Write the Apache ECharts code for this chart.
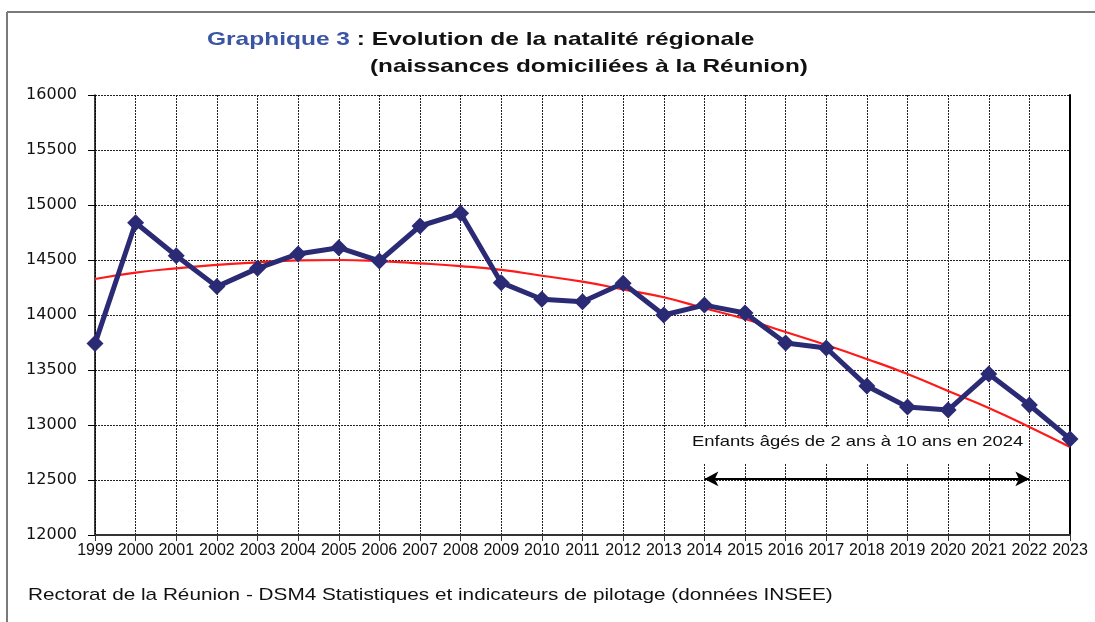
<!DOCTYPE html>
<html>
<head>
<meta charset="utf-8">
<script src="https://cdn.jsdelivr.net/npm/echarts@6/dist/echarts.min.js"></script>
<style>html,body{margin:0;padding:0;background:#fff}#c{width:1095px;height:622px}</style>
</head>
<body>
<div id="c"></div>
<script>
var years = ['1999','2000','2001','2002','2003','2004','2005','2006','2007','2008','2009','2010','2011','2012','2013','2014','2015','2016','2017','2018','2019','2020','2021','2022','2023'];
var births = [13740,14839,14539,14258,14424,14555,14612,14491,14809,14924,14294,14143,14121,14288,14000,14090,14018,13745,13700,13355,13164,13136,13464,13182,12873];
var trend = [14327,14385,14424,14455,14479,14497,14500,14490,14470,14445,14410,14357,14303,14233,14161,14061,13964,13845,13727,13600,13464,13309,13155,12982,12800];
var arrowSpan = {from:'2014', to:'2022', value:12510};
var annotation = 'Enfants âgés de 2 ans à 10 ans en 2024';
var titleLine1 = 'Graphique 3';
var titleLine1b = ' : Evolution de la natalité régionale';
var titleLine2 = '(naissances domiciliées à la Réunion)';
var sourceText = 'Rectorat de la Réunion - DSM4 Statistiques et indicateurs de pilotage (données INSEE)';

var FONT = '"Liberation Sans", Arial, Helvetica, sans-serif';
var chart = echarts.init(document.getElementById('c'), null, {renderer:'canvas'});
var dotted = {color:'#222', width:1, type:[2,1]};
chart.setOption({
  animation:false,
  backgroundColor:'#fff',
  grid:{left:95, right:25, top:95, bottom:87, containLabel:false},
  xAxis:{
    type:'category', data:years, boundaryGap:false,
    axisLine:{lineStyle:{color:'#333', width:2}},
    axisTick:{show:true, length:6, lineStyle:{color:'#333'}},
    axisLabel:{color:'#111', fontFamily:FONT, fontSize:16, margin:8, interval:0},
    splitLine:{show:true, lineStyle:dotted}
  },
  yAxis:[{
    type:'value', min:12000, max:16000, interval:500,
    axisLine:{show:true, lineStyle:{color:'#000', width:1.5}},
    axisTick:{show:true, length:7, lineStyle:{color:'#000'}},
    axisLabel:{color:'#111', fontFamily:'"DejaVu Sans", sans-serif', fontSize:16, margin:18,
      formatter:function(v){return String(v);}},
    splitLine:{show:true, lineStyle:dotted}
  },{
    type:'value', min:12000, max:16000, interval:500, position:'right',
    axisLine:{show:true, lineStyle:{color:'#000', width:2}},
    axisTick:{show:false}, axisLabel:{show:false}, splitLine:{show:false}
  }],
  graphic:[
    {type:'line', shape:{x1:7,y1:12,x2:1095,y2:12}, style:{stroke:'#7a7a7a', lineWidth:2}, silent:true},
    {type:'line', shape:{x1:7,y1:12,x2:7,y2:622}, style:{stroke:'#7a7a7a', lineWidth:2}, silent:true},
    {type:'text', x:207, y:30, scaleX:1.29, style:{
      x:0, y:0, verticalAlign:'top',
      text:'{b|'+titleLine1+'}{k|'+titleLine1b+'}',
      rich:{
        b:{fill:'#3b55a5', font:'bold 19px '+FONT},
        k:{fill:'#111', font:'bold 19px '+FONT}
      }}},
    {type:'text', x:370, y:57, scaleX:1.28, style:{x:0, y:0, verticalAlign:'top', text:titleLine2, fill:'#111', font:'bold 19px '+FONT}},
    {type:'rect', shape:{x:684,y:428,width:342,height:36}, style:{fill:'#fff'}, z:50},
    {type:'text', x:692, y:434, scaleX:1.23, z:51, style:{x:0, y:0, verticalAlign:'top', text:annotation, fill:'#111', font:'15px '+FONT}},
    {type:'text', x:28, y:587, scaleX:1.22, style:{x:0, y:0, verticalAlign:'top', text:sourceText, fill:'#111', font:'17px '+FONT}}
  ],
  series:[
    {
      name:'trend', type:'line', data:trend, smooth:true, showSymbol:false, symbol:'none',
      lineStyle:{color:'#ff1a1a', width:2.2}, z:3,
      markLine:{
        silent:true, symbol:['arrow','arrow'], symbolSize:[11,14],
        label:{show:false},
        lineStyle:{color:'#000', width:2, type:'solid'},
        data:[[{coord:[arrowSpan.from, arrowSpan.value]},{coord:[arrowSpan.to, arrowSpan.value]}]]
      }
    },
    {
      name:'naissances', type:'line', data:births, symbol:'diamond', symbolSize:17,
      lineStyle:{color:'#2b2a74', width:5}, itemStyle:{color:'#2b2a74'}, z:4
    }
  ]
});
</script>
</body>
</html>
